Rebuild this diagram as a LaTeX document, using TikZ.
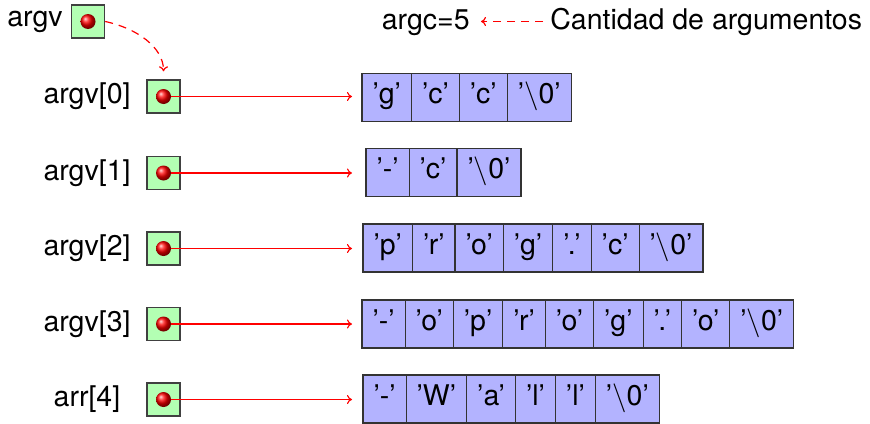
\documentclass[tikz,border=0pt]{standalone}
\usepackage{fontspec}
\setmainfont{TeX Gyre Heros}
\usetikzlibrary{arrows.meta,shadings}

\definecolor{ptrfill}{RGB}{179,255,179}
\definecolor{cellfill}{RGB}{179,179,255}

\tikzset{
  txt/.style={font=\fontsize{14.25}{17}\selectfont},
  ptrbox/.style={draw=black!75, line width=0.7pt, fill=ptrfill,
    minimum size=16.5pt, inner sep=0pt},
  ballnode/.style={circle, ball color=red, inner sep=0pt, minimum size=7.5pt},
  cell/.style={txt, draw=black!80, line width=0.6pt, fill=cellfill,
    minimum height=24pt, inner xsep=5.25pt, inner ysep=0pt, outer sep=0pt,
    text height=10.3pt, text depth=4.3pt, anchor=west},
  origin/.style={inner sep=0pt, outer sep=0pt, minimum size=0pt},
  link/.style={draw=red, line width=0.55pt, -{To[length=2.5pt,width=4.5pt]}},
  dlink/.style={link, line width=0.6pt, dash pattern=on 4pt off 3pt}
}

% a row of character cells #3, named #1-1, #1-2, ..., starting at #2
\newcommand\chararray[3]{%
  \node[origin] (#1-0) at #2 {};
  \foreach \c [count=\i, remember=\i as \j (initially 0)] in {#3} {
    \node[cell] (#1-\i) at (#1-\j.east) {’\c’};
  }
}

% a pointer cell with its ball and name
\newcommand\pointer[4]{% name, position, label, label x
  \node[ptrbox] (#1) at #2 {};
  \node[ballnode] (#1b) at (#1.center) {};
  \node[txt] (#1l) at (#4,0 |- #1.center) {#3};
}

\begin{document}
\begin{tikzpicture}[x=0.5pt,y=-0.5pt]
  \useasboundingbox (0,0) rectangle (870,423);

  % argv itself
  \node[ptrbox] (argv) at (88,21.5) {};
  \node[ballnode] (argvb) at (argv.center) {};
  \node[txt] (argvl) at (35,22) {argv};

  % argc and its note
  \node[txt, inner sep=0pt, anchor=base east] (argc) at (470,29) {argc=5};
  \node[txt, inner sep=0pt, anchor=base west] (cant) at (550,29) {Cantidad de argumentos};
  \draw[dlink, shorten <=3.5pt, shorten >=5.5pt] (cant.west) -- (cant.west -| argc.east);

  % the pointer array
  \pointer{p0}{(163.5,96.5)}{argv[0]}{87}
  \pointer{p1}{(163.5,173)}{argv[1]}{87}
  \pointer{p2}{(163.5,248.5)}{argv[2]}{87}
  \pointer{p3}{(163.5,324)}{argv[3]}{87}
  \pointer{p4}{(163.5,399.5)}{arr[4]}{87}

  % the strings
  \chararray{s0}{(362,97.5)}{g,c,c,{$\backslash$0}}
  \chararray{s1}{(366,172.5)}{-,c,{$\backslash$0}}
  \chararray{s2}{(363,248)}{p,r,o,g,.,c,{$\backslash$0}}
  \chararray{s3}{(362,324)}{-,o,p,r,o,g,.,o,{$\backslash$0}}
  \chararray{s4}{(363,399)}{-,W,a,l,l,{$\backslash$0}}

  % argv points to argv[0]
  \draw[dlink, shorten >=4pt] (argv.east) to[out=-12,in=90] (p0.north);

  % each pointer points to its string
  \draw[link, shorten >=5pt] (p0b.east) -- (p0b.east -| s0-0.west);
  \draw[link, shorten >=7pt] (p1b.east) -- (p1b.east -| s1-0.west);
  \draw[link, shorten >=5.5pt] (p2b.east) -- (p2b.east -| s2-0.west);
  \draw[link, shorten >=5pt] (p3b.east) -- (p3b.east -| s3-0.west);
  \draw[link, shorten >=5.5pt] (p4b.east) -- (p4b.east -| s4-0.west);
\end{tikzpicture}
\end{document}
